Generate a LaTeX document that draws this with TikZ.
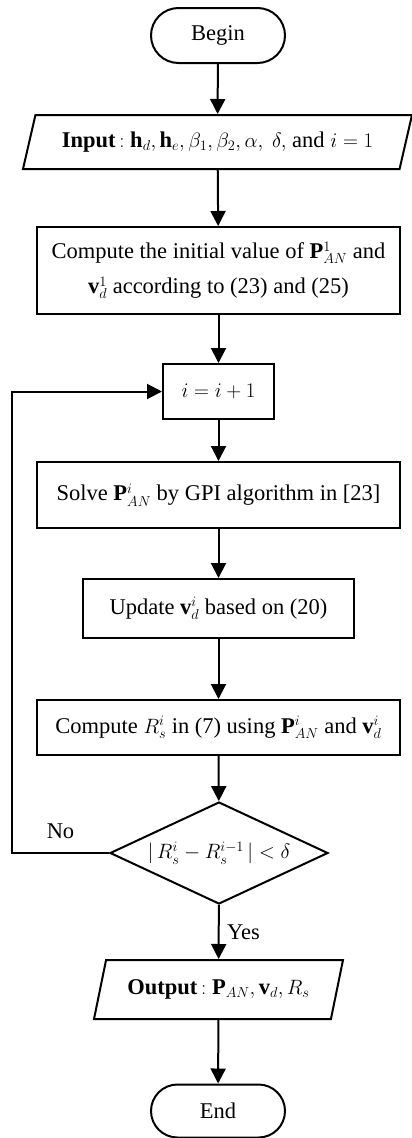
\documentclass[tikz,border=0pt]{standalone}
\usepackage{fontspec}
\setmainfont{Liberation Serif}
\usetikzlibrary{arrows.meta,shapes,positioning}

\begin{document}
\begin{tikzpicture}[x=1pt,y=-1pt]
  \tikzset{
    base/.style={draw, line width=2pt, font=\fontsize{22.5}{35}\selectfont, inner sep=2pt, align=center},
    startstop/.style={base, rounded rectangle, minimum width=138pt, minimum height=55pt},
    io/.style={base, trapezium, trapezium left angle=63, trapezium right angle=117,
      trapezium stretches body},
    process/.style={base, rectangle},
    decision/.style={base, diamond, shape aspect=2.14, minimum width=218pt, minimum height=102pt, inner sep=0pt},
    arrow/.style={line width=2pt, -{Triangle[length=15pt,width=15pt]}},
    lbl/.style={font=\fontsize{22.5}{27}\selectfont}
  }
  \useasboundingbox (0,0) rectangle (412,1138);

  \node[startstop] (begin) at (218,35.5) {Begin};
  \node[io, minimum width=389pt, minimum height=54pt] (input) at (217.5,142)
    {\textbf{Input}\,$:\mathbf{h}_d,\mathbf{h}_e,\beta_1,\beta_2,\alpha,\ \delta,$ and $i=1$};
  \node[process, minimum width=363pt, minimum height=87pt] (init) at (218.5,270.5)
    {Compute the initial value of $\mathbf{P}_{AN}^{1}$ and\\$\mathbf{v}_d^{1}$ according to (23) and (25)};
  \node[process, minimum width=111pt, minimum height=55pt] (incr) at (218.5,391.5) {$i=i+1$};
  \node[process, minimum width=363pt, minimum height=66pt] (solve) at (218.5,495)
    {Solve $\mathbf{P}_{AN}^{i}$ by GPI algorithm in [23]};
  \node[process, minimum width=271pt, minimum height=59pt] (update) at (218.5,608.5)
    {Update $\mathbf{v}_d^{i}$ based on (20)};
  \node[process, minimum width=363pt, minimum height=55pt] (rate) at (218.5,727.5)
    {Compute $R_s^{i}$ in (7) using $\mathbf{P}_{AN}^{i}$ and $\mathbf{v}_d^{i}$};
  \node[decision] (check) at (219,853) {$|\,R_s^{i}-R_s^{i-1}\,|<\delta$};
  \node[io, minimum width=249pt, minimum height=59pt] (output) at (218.5,989.5)
    {\textbf{Output}\,$:\mathbf{P}_{AN},\mathbf{v}_d,R_s$};
  \node[startstop, minimum height=53pt] (end) at (218,1111) {End};

  \coordinate (loopdown) at (12,853);
  \coordinate (loopup) at (12,391.5);

  \draw[arrow] (begin) -- (input);
  \draw[arrow] (input) -- (init);
  \draw[arrow] (init) -- (incr);
  \draw[arrow] (incr) -- (solve);
  \draw[arrow] (solve) -- (update);
  \draw[arrow] (update) -- (rate);
  \draw[arrow] (rate) -- (check);
  \draw[arrow] (check) -- node[lbl, right, xshift=4pt] {Yes} (output);
  \draw[arrow] (output) -- (end);
  \draw[arrow] (check.west) -- node[lbl, above=10pt] {No} (loopdown) -- (loopup) -- (incr.west);
\end{tikzpicture}
\end{document}
